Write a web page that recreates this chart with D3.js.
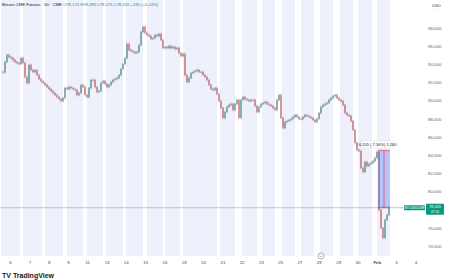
<!DOCTYPE html>
<html>
<head>
<meta charset="utf-8">
<script src="https://cdn.jsdelivr.net/npm/d3@7/dist/d3.min.js"></script>
<style>
  body { margin: 0; background: #fff; }
  text { font-family: "Liberation Sans", Arial, sans-serif; }
</style>
</head>
<body>
<div id="chart"></div>
<script>
// 30m closes, Bitcoin CME futures (one value per bar)
var closes = [
  93100, 94220, 94990, 94770, 94660, 94440, 94220, 94100, 94000, 94660,
  94110, 92570, 91910, 93890, 93340, 93120, 93300, 92790, 92350, 92130,
  91910, 91690, 91470, 91250, 91030, 90810, 90590, 90370, 90150, 89930,
  90260, 91360, 91250, 91470, 91360, 91250, 91140, 90590, 90810, 91690,
  91470, 90590, 90370, 91360, 92240, 92240, 91470, 90920, 91030, 91910,
  92130, 91800, 91470, 91690, 92020, 92240, 92350, 92460, 92790, 93450,
  94000, 94660, 96200, 95540, 95430, 95320, 95210, 95320, 96090, 97520,
  98070, 97410, 97190, 97080, 96750, 96860, 97190, 97080, 97300, 96640,
  95760, 95870, 95760, 95980, 95760, 95870, 95650, 95760, 95210, 94880,
  95100, 92790, 92020, 92460, 93010, 93120, 93230, 93340, 93120, 93120,
  92790, 92570, 92240, 91690, 91250, 91140, 91360, 90700, 89930, 89170,
  88070, 88730, 89280, 89500, 89610, 88950, 89610, 90050, 88070, 90050,
  90370, 90150, 90050, 89930, 90050, 90050, 89390, 88730, 89280, 89610,
  89720, 89830, 89610, 89500, 89390, 89170, 88950, 90050, 90590, 88070,
  86970, 87630, 87740, 87850, 87960, 88180, 88400, 88180, 87960, 87960,
  88180, 88400, 88290, 88180, 88070, 87850, 87630, 87960, 88620, 89280,
  89500, 89610, 89720, 90050, 90260, 90480, 90590, 90260, 90050, 89930,
  89500, 88620, 88400, 88290, 87740, 86750, 85320, 84550, 84440, 82570,
  82130, 83230, 82790, 83010, 83120, 83340, 83670, 84330, 77950, 75980,
  74880, 76860, 77410, 78205
];

var dayLabels = ["6", "7", "8", "9", "11", "13", "14", "15", "16", "18", "20",
                 "21", "22", "23", "25", "27", "28", "29", "30", "Feb", "3", "4"];
var dayTickBars = [3.5, 13.2, 22.8, 32.5, 42.1, 51.8, 61.4, 71.1, 80.7, 90.4, 100,
                   109.7, 119.3, 129, 138.6, 148.3, 157.9, 167.6, 177.2, 186.9, 196.5, 206.2];

// 78,000 sits under the last-price label, so it is not listed
var priceTicks = [74000, 76000, 80000, 82000, 84000, 86000, 88000,
                  90000, 92000, 94000, 96000, 98000];

// session background bands, in bar units
var sessionBands = [
  [-1, 8.5], [10, 19.5], [21, 30], [32, 40], [42, 50], [51.5, 60], [61.5, 70],
  [72, 80], [81, 88.5], [90, 107], [108.5, 116], [119.5, 127], [129.5, 136],
  [139.5, 146], [149, 155.5], [158.5, 165], [168.5, 175], [177.5, 184.5], [187, 193.5]
];

var lastPrice = 78205;
var measureBars = [187.5, 193.5];
var measurePrices = [84500, 78205];
var measureText = "-6,205 (-7.36%) 1,260";
var legendTitle = "Bitcoin CME Futures · 30 · CME";
var legendValues = "O78,170 H78,285 L78,075 C78,205 +190 (+0.24%)";

var w = 450, h = 280;
var plotRight = 425, plotBottom = 256;

var svg = d3.select("#chart").append("svg")
    .attr("width", w)
    .attr("height", h);

var x = d3.scaleLinear().domain([0, closes.length - 1]).range([3, 389]);
var y = d3.scaleLinear().domain([74000, 98000]).range([246, 27.6]);

// background bands
svg.selectAll("rect.band")
    .data(sessionBands)
    .enter().append("rect")
    .attr("class", "band")
    .attr("x", function (d) { return Math.max(0, x(d[0])); })
    .attr("width", function (d) { return x(d[1]) - Math.max(0, x(d[0])); })
    .attr("y", 0)
    .attr("height", plotBottom)
    .attr("fill", "#eef0fb");

// last price line
svg.append("line")
    .attr("x1", 0).attr("x2", plotRight)
    .attr("y1", y(lastPrice)).attr("y2", y(lastPrice))
    .attr("stroke", "#9aa0ad")
    .attr("stroke-width", 0.6);

// candles
var bars = closes.map(function (c, i) {
  return { i: i, open: i ? closes[i - 1] : c, close: c };
});
var upCol = "#3f8f80", downCol = "#d9575f";

var candle = svg.selectAll("g.candle")
    .data(bars)
    .enter().append("g")
    .attr("class", "candle");

candle.append("line")
    .attr("x1", function (d) { return x(d.i); })
    .attr("x2", function (d) { return x(d.i); })
    .attr("y1", function (d) { return y(Math.max(d.open, d.close)) - 1.2; })
    .attr("y2", function (d) { return y(Math.min(d.open, d.close)) + 1.2; })
    .attr("stroke", "#50535e")
    .attr("stroke-width", 0.5);

candle.append("rect")
    .attr("x", function (d) { return x(d.i) - 0.5; })
    .attr("width", 1)
    .attr("y", function (d) { return y(Math.max(d.open, d.close)); })
    .attr("height", function (d) { return Math.max(0.6, Math.abs(y(d.open) - y(d.close))); })
    .attr("fill", function (d) { return d.close >= d.open ? upCol : downCol; });

// price range tool
var mx0 = x(measureBars[0]), mx1 = x(measureBars[1]);
var my0 = y(measurePrices[0]), my1 = y(measurePrices[1]);
svg.append("rect")
    .attr("x", mx0).attr("width", mx1 - mx0)
    .attr("y", my0).attr("height", my1 - my0)
    .attr("fill", "#2962ff").attr("fill-opacity", 0.3);
[my0, my1].forEach(function (yy) {
  svg.append("line")
      .attr("x1", mx0).attr("x2", mx1).attr("y1", yy).attr("y2", yy)
      .attr("stroke", "#f23645").attr("stroke-width", 0.7);
});
svg.append("line")
    .attr("x1", (mx0 + mx1) / 2).attr("x2", (mx0 + mx1) / 2)
    .attr("y1", my0).attr("y2", my1 - 1)
    .attr("stroke", "#f23645").attr("stroke-width", 0.7);
svg.append("path")
    .attr("d", "M" + ((mx0 + mx1) / 2 - 1.5) + "," + (my1 - 2) + "l1.5,2l1.5,-2")
    .attr("fill", "none").attr("stroke", "#f23645").attr("stroke-width", 0.7);

var mLabel = svg.append("g")
    .attr("transform", "translate(" + ((mx0 + mx1) / 2 - 7) + "," + (my0 - 6) + ")");
mLabel.append("rect")
    .attr("x", -16).attr("y", -3.5).attr("width", 32).attr("height", 7)
    .attr("rx", 1).attr("fill", "#fff").attr("stroke", "#d1d4dc").attr("stroke-width", 0.4);
mLabel.append("text")
    .attr("text-anchor", "middle").attr("dy", "0.35em")
    .attr("font-size", 4).attr("fill", "#131722")
    .text(measureText);

// right price axis
var yAxis = d3.axisRight(y)
    .tickValues(priceTicks)
    .tickSize(0)
    .tickPadding(0)
    .tickFormat(d3.format(",d"));
var yg = svg.append("g")
    .attr("transform", "translate(" + (plotRight + 3) + ",0)")
    .call(yAxis);
yg.select(".domain").remove();
yg.selectAll("text").attr("font-size", 4.4).attr("fill", "#5d606b");

svg.append("text").attr("x", 432).attr("y", 6.5)
    .attr("font-size", 4.2).attr("fill", "#434651").text("USD");
svg.append("text").attr("x", 431).attr("y", 11)
    .attr("font-size", 3).attr("fill", "#9598a1").text("· · · · ·");

// last price labels
svg.append("rect")
    .attr("x", 404).attr("y", y(lastPrice) - 2.6).attr("width", 21).attr("height", 5.2)
    .attr("rx", 0.8).attr("fill", "#089981");
svg.append("text")
    .attr("x", 414.5).attr("y", y(lastPrice)).attr("dy", "0.35em")
    .attr("text-anchor", "middle").attr("font-size", 3.2).attr("fill", "#fff")
    .text("BTCUSDCME");
svg.append("rect")
    .attr("x", 426).attr("y", y(lastPrice) - 4).attr("width", 18).attr("height", 11)
    .attr("rx", 0.8).attr("fill", "#089981");
svg.append("text")
    .attr("x", 435).attr("y", y(lastPrice) - 1.2).attr("dy", "0.35em")
    .attr("text-anchor", "middle").attr("font-size", 3.8).attr("fill", "#fff")
    .text(d3.format(",d")(lastPrice));
svg.append("text")
    .attr("x", 435).attr("y", y(lastPrice) + 3.8).attr("dy", "0.35em")
    .attr("text-anchor", "middle").attr("font-size", 3.2).attr("fill", "#fff")
    .text("07:14");

// time axis
var xAxis = d3.axisBottom(x)
    .tickValues(dayTickBars)
    .tickSize(0)
    .tickPadding(0)
    .tickFormat(function (d, i) { return dayLabels[i]; });
var xg = svg.append("g")
    .attr("transform", "translate(0," + (plotBottom + 5) + ")")
    .call(xAxis);
xg.select(".domain").remove();
xg.selectAll("text").attr("font-size", 4.4).attr("fill", "#434651")
    .attr("font-weight", function (d, i) { return dayLabels[i] === "Feb" ? "bold" : null; });

// event marker
svg.append("circle")
    .attr("cx", x(159)).attr("cy", plotBottom)
    .attr("r", 3).attr("fill", "#fff").attr("stroke", "#787b86").attr("stroke-width", 0.6);
svg.append("path")
    .attr("d", "M" + (x(159) - 1.3) + "," + (plotBottom - 0.3) + "l1.3,1.2l1.3,-1.2")
    .attr("fill", "none").attr("stroke", "#787b86").attr("stroke-width", 0.5);

// legend
var leg = svg.append("text").attr("x", 2).attr("y", 6).attr("font-size", 4.2);
leg.append("tspan").attr("fill", "#131722").text(legendTitle + "  ");
leg.append("tspan").attr("fill", "#089981").text(legendValues);

// logo
svg.append("text").attr("x", 2).attr("y", 277.5)
    .attr("font-size", 7).attr("font-weight", "bold").attr("fill", "#131722")
    .text("TV TradingView");
</script>
</body>
</html>
